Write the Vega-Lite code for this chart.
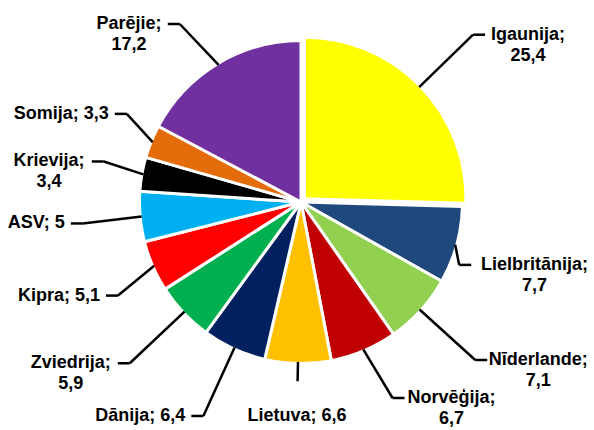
{
  "$schema": "https://vega.github.io/schema/vega-lite/v6.json",
  "width": 594,
  "height": 430,
  "autosize": {"type": "fit", "contains": "padding"},
  "padding": 0,
  "background": "white",
  "config": {"view": {"stroke": null}},
  "data": {
    "values": [
      {"country": "Igaunija", "value": 25.4, "label": "Igaunija;\n25,4"},
      {"country": "Lielbritānija", "value": 7.7, "label": "Lielbritānija;\n7,7"},
      {"country": "Nīderlande", "value": 7.1, "label": "Nīderlande;\n7,1"},
      {"country": "Norvēģija", "value": 6.7, "label": "Norvēģija;\n6,7"},
      {"country": "Lietuva", "value": 6.6, "label": "Lietuva; 6,6"},
      {"country": "Dānija", "value": 6.4, "label": "Dānija; 6,4"},
      {"country": "Zviedrija", "value": 5.9, "label": "Zviedrija;\n5,9"},
      {"country": "Kipra", "value": 5.1, "label": "Kipra; 5,1"},
      {"country": "ASV", "value": 5, "label": "ASV; 5"},
      {"country": "Krievija", "value": 3.4, "label": "Krievija;\n3,4"},
      {"country": "Somija", "value": 3.3, "label": "Somija; 3,3"},
      {"country": "Parējie", "value": 17.2, "label": "Parējie;\n17,2"}
    ]
  },
  "transform": [
    {"window": [{"op": "row_number", "as": "idx"}]},
    {"window": [{"op": "sum", "field": "value", "as": "cum"}], "sort": [{"field": "idx"}], "frame": [null, 0]},
    {"joinaggregate": [{"op": "sum", "field": "value", "as": "total"}]},
    {"calculate": "(datum.cum - datum.value) / datum.total", "as": "a0"},
    {"calculate": "datum.cum / datum.total", "as": "a1"},
    {"calculate": "2 * PI * (datum.cum - datum.value / 2) / datum.total", "as": "mid"},
    {"calculate": "sin(datum.mid)", "as": "s"},
    {"calculate": "cos(datum.mid)", "as": "c"},
    {"calculate": "datum.country === 'Igaunija' ? 0.03 : 0", "as": "ex"},
    {"calculate": "datum.ex * datum.s", "as": "cx"},
    {"calculate": "datum.ex * datum.c", "as": "cy"},
    {"calculate": "datum.cx + datum.s", "as": "x0"},
    {"calculate": "datum.cy + datum.c", "as": "y0"},
    {"calculate": "abs(datum.s) < 0.2", "as": "bottom"},
    {"calculate": "datum.s >= 0 ? 1 : -1", "as": "side"},
    {"calculate": "indexof(datum.label, '\\n')", "as": "nl"},
    {"calculate": "datum.nl >= 0 ? 2 : 1", "as": "lines"},
    {"calculate": "(datum.nl >= 0 ? datum.nl * 8.2 : length(datum.label) * 8.8) / 160", "as": "w"},
    {"calculate": "datum.bottom ? datum.cx + 1.12 * datum.s : (datum.side > 0 ? min(datum.cx + 1.47 * datum.s, 1.70625 - datum.w) : max(datum.cx + 1.47 * datum.s, -1.69375 + datum.w))", "as": "x1"},
    {"calculate": "datum.bottom ? datum.cy + 1.12 * datum.c : clamp(datum.cy + 1.47 * datum.c, datum.lines == 2 ? -1.225 : -1.356, 1.1125)", "as": "y1"},
    {"calculate": "datum.bottom ? datum.x1 : datum.x1 + datum.side * 0.075", "as": "hx"},
    {"calculate": "datum.bottom ? datum.cx + 1.34 * datum.s : (datum.lines == 2 ? datum.hx + datum.side * (0.0375 + datum.w / 2) : datum.hx + datum.side * 0.0375)", "as": "tx"},
    {"calculate": "datum.bottom ? datum.cy + 1.34 * datum.c : datum.y1", "as": "ty"}
  ],
  "layer": [
    {
      "mark": {"type": "arc", "radius": 161.5, "stroke": "white", "strokeWidth": 3, "strokeJoin": "round"},
      "encoding": {
        "theta": {"field": "a0", "type": "quantitative", "scale": {"domain": [0, 1], "nice": false, "zero": true}},
        "theta2": {"field": "a1"},
        "x": {"field": "cx", "type": "quantitative", "scale": {"domain": [-1.88125, 1.83125], "nice": false, "zero": false}, "axis": null},
        "y": {"field": "cy", "type": "quantitative", "scale": {"domain": [-1.425, 1.2625], "nice": false, "zero": false}, "axis": null},
        "color": {
          "field": "country",
          "type": "nominal",
          "scale": {
            "domain": ["Igaunija", "Lielbritānija", "Nīderlande", "Norvēģija", "Lietuva", "Dānija", "Zviedrija", "Kipra", "ASV", "Krievija", "Somija", "Parējie"],
            "range": ["#FFFF00", "#1F497D", "#92D050", "#C00000", "#FFC000", "#002060", "#00B050", "#FF0000", "#00B0F0", "#000000", "#E46C0A", "#7030A0"]
          },
          "legend": null
        }
      }
    },
    {
      "mark": {"type": "rule", "color": "black", "strokeWidth": 2.5},
      "encoding": {
        "x": {"field": "x0", "type": "quantitative"},
        "y": {"field": "y0", "type": "quantitative"},
        "x2": {"field": "x1"},
        "y2": {"field": "y1"}
      }
    },
    {
      "mark": {"type": "rule", "color": "black", "strokeWidth": 2.5},
      "encoding": {
        "x": {"field": "x1", "type": "quantitative"},
        "y": {"field": "y1", "type": "quantitative"},
        "x2": {"field": "hx"},
        "y2": {"field": "y1"}
      }
    },
    {
      "mark": {
        "type": "text",
        "lineBreak": "\n",
        "font": "Liberation Sans",
        "fontWeight": "bold",
        "fontSize": 18,
        "lineHeight": 21,
        "align": {"expr": "datum.lines == 2 || datum.bottom ? 'center' : (datum.side > 0 ? 'left' : 'right')"},
        "baseline": "top",
        "dy": -9,
        "color": "black"
      },
      "encoding": {
        "x": {"field": "tx", "type": "quantitative"},
        "y": {"field": "ty", "type": "quantitative"},
        "text": {"field": "label", "type": "nominal"}
      }
    }
  ]
}
